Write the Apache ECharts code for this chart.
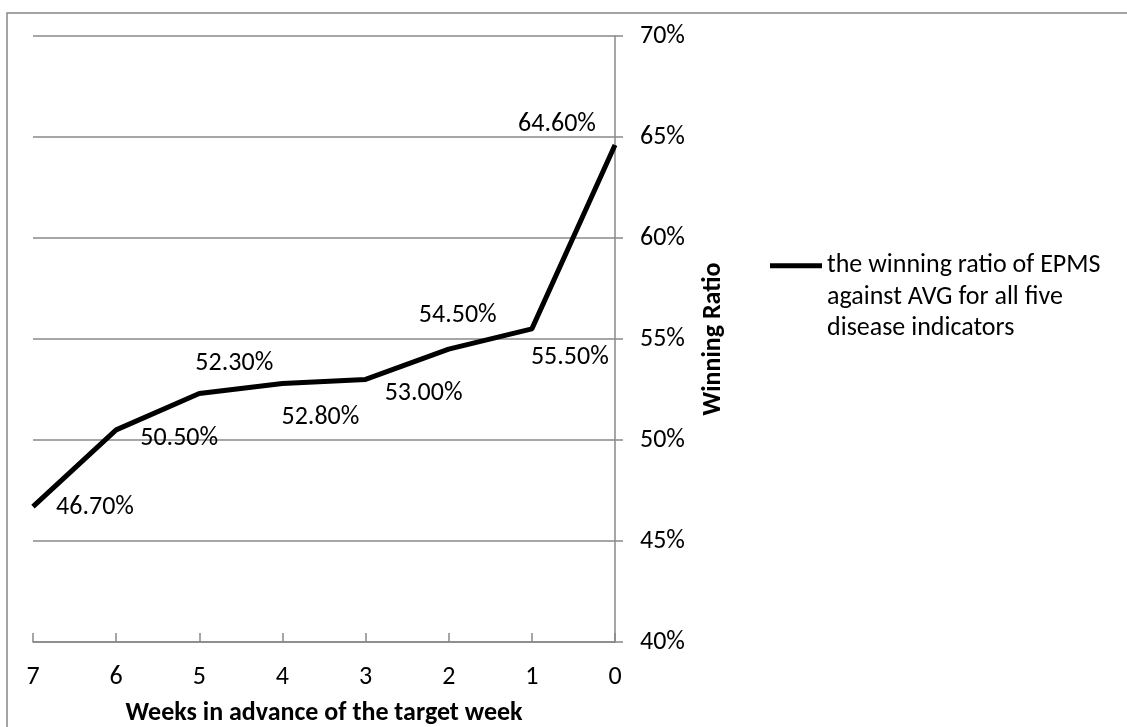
<!DOCTYPE html>
<html>
<head>
<meta charset="utf-8">
<script src="https://cdn.jsdelivr.net/npm/echarts@6/dist/echarts.min.js"></script>
<style>
html,body{margin:0;padding:0;background:#fff;}
#chart{width:1127px;height:727px;}
</style>
</head>
<body>
<div id="chart"></div>
<script>
var categories = ['7','6','5','4','3','2','1','0'];
var values = [0.467, 0.505, 0.523, 0.528, 0.530, 0.545, 0.555, 0.646];
var valueLabels = ['46.70%','50.50%','52.30%','52.80%','53.00%','54.50%','55.50%','64.60%'];
var yTicks = [0.40, 0.45, 0.50, 0.55, 0.60, 0.65, 0.70];
var seriesName = 'the winning ratio of EPMS\nagainst AVG for all five\ndisease indicators';
var xAxisTitle = 'Weeks in advance of the target week';
var yAxisTitle = 'Winning Ratio';

var labelOffsets = [[62,1],[63,9],[35,-30],[38,34],[58,14],[9,-34],[38,29],[-58,-21]];

var FONT = 'Carlito, Calibri, Lato, sans-serif';
var FS = 26;
var LH = 31.5;
var gridColor = '#888888';

var data = values.map(function(v, i){
  return {
    value: v,
    label: { offset: labelOffsets[i], formatter: valueLabels[i] }
  };
});

var iconH = 2 * LH + 5;
var legendIcon = 'path://M0,0H52V5H0Z M0,' + iconH + 'H1V' + iconH + 'H0Z';

var chart = echarts.init(document.getElementById('chart'));
chart.setOption({
  animation: false,
  backgroundColor: '#fff',
  graphic: [{
    type: 'rect',
    shape: { x: 7, y: 13, width: 1300, height: 900 },
    style: { fill: 'none', stroke: gridColor, lineWidth: 1.5 },
    silent: true, z: -1
  }],
  grid: { left: 33, right: 512, top: 36, bottom: 85, containLabel: false, outerBoundsMode: 'none' },
  legend: {
    data: [{ name: seriesName, icon: legendIcon, itemStyle: { color: '#000', opacity: 1 } }],
    left: 765, top: 245,
    itemWidth: 52, itemHeight: iconH,
    symbolKeepAspect: false,
    textStyle: {
      fontFamily: FONT, fontSize: FS, color: '#000', lineHeight: LH
    }
  },
  xAxis: {
    type: 'category',
    data: categories,
    boundaryGap: false,
    axisLine: { show: true, lineStyle: { color: gridColor, width: 1.5 } },
    axisTick: { show: true, inside: true, length: 9, lineStyle: { color: gridColor, width: 1.5 } },
    axisLabel: { fontFamily: FONT, fontSize: FS, color: '#000', margin: 22 },
    name: xAxisTitle,
    nameLocation: 'middle',
    nameGap: 58,
    nameTextStyle: { fontFamily: FONT, fontSize: FS, fontWeight: 'bold', color: '#000' }
  },
  yAxis: {
    type: 'value',
    position: 'right',
    min: yTicks[0], max: yTicks[yTicks.length-1], interval: 0.05,
    axisLine: { show: true, lineStyle: { color: gridColor, width: 1.5 } },
    axisTick: { show: true, length: 8, lineStyle: { color: gridColor, width: 1.5 } },
    splitLine: { show: true, lineStyle: { color: gridColor, width: 1.5 } },
    axisLabel: {
      fontFamily: FONT, fontSize: FS, color: '#000', margin: 25,
      formatter: function(v){ return Math.round(v*100) + '%'; }
    },
    name: yAxisTitle,
    nameLocation: 'middle',
    nameRotate: 90,
    nameGap: 85,
    nameTextStyle: { fontFamily: FONT, fontSize: FS, fontWeight: 'bold', color: '#000' }
  },
  series: [{
    name: seriesName,
    type: 'line',
    data: data,
    symbol: 'circle',
    symbolSize: 0.01,
    showSymbol: true,
    itemStyle: { color: '#000' },
    lineStyle: { color: '#000', width: 5 },
    label: {
      show: true, position: 'inside',
      fontFamily: FONT, fontSize: FS, color: '#000'
    },
    emphasis: { disabled: true }
  }]
});
</script>
</body>
</html>
